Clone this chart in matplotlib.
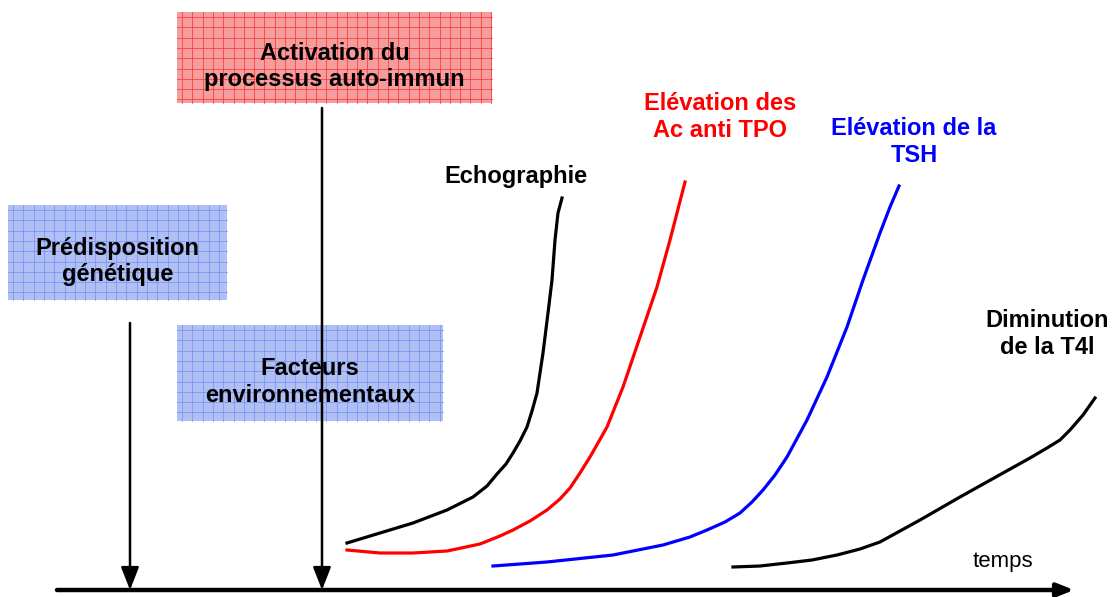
import matplotlib
matplotlib.use("Agg")
import matplotlib.pyplot as plt
from matplotlib.patches import Rectangle

# curves, in pixel coordinates of the slide (x to the right, y down)
echo_x = [347, 380, 413, 447, 473, 487, 497, 506, 513, 520, 527, 532, 537, 543, 548, 552, 555, 558, 562]
echo_y = [543, 533, 523, 510, 497, 486, 474, 464, 453, 441, 427, 411, 393, 353, 313, 280, 240, 213, 198]
tpo_x = [347, 380, 413, 447, 480, 500, 513, 530, 547, 560, 570, 580, 590, 607, 623, 640, 657, 670, 685]
tpo_y = [550, 553, 553, 551, 544, 536, 530, 521, 510, 499, 488, 473, 457, 427, 387, 337, 287, 240, 182]
tsh_x = [493, 547, 613, 663, 690, 707, 725, 740, 752, 763, 775, 787, 807, 827, 847, 863, 880, 890, 899]
tsh_y = [566, 562, 555, 545, 537, 530, 522, 513, 502, 490, 475, 457, 420, 377, 327, 280, 233, 207, 186]
t4_x = [733, 760, 787, 812, 837, 860, 880, 920, 960, 1003, 1030, 1047, 1060, 1070, 1083, 1095]
t4_y = [567, 566, 563, 560, 555, 549, 542, 520, 497, 473, 458, 448, 440, 430, 415, 398]

boxes = [
    # x0, y0, x1, y1, label, fill, grid
    (177, 12, 492, 103, "Activation du\nprocessus auto-immun", "#f59c9c", "#ff2a2a"),
    (8, 205, 227, 300, "Prédisposition\ngénétique", "#b0c0f4", "#6f8ff2"),
    (177, 325, 443, 421, "Facteurs\nenvironnementaux", "#b0c0f4", "#6f8ff2"),
]

labels = [
    (516, 176, "Echographie", "black"),
    (720, 117, "Elévation des\nAc anti TPO", "#ff0000"),
    (914, 142, "Elévation de la\nTSH", "#0000ff"),
    (1047, 334, "Diminution\nde la T4l", "black"),
]

plt.rcParams["font.family"] = ["Liberation Sans", "DejaVu Sans"]
fig = plt.figure(figsize=(11.18, 5.97), dpi=100)
ax = fig.add_axes([0, 0, 1, 1])
ax.set_xlim(0, 1118)
ax.set_ylim(597, 0)
ax.axis("off")

for x0, y0, x1, y1, txt, fill, grid in boxes:
    ax.add_patch(Rectangle((x0, y0), x1 - x0, y1 - y0, facecolor=fill,
                           edgecolor="none", zorder=1))
    gx = x0 + 5
    while gx < x1:
        ax.plot([gx, gx], [y0, y1], color=grid, lw=0.7, alpha=0.7, zorder=1.5)
        gx += 10.3
    gy = y0 + 5
    while gy < y1:
        ax.plot([x0, x1], [gy, gy], color=grid, lw=0.7, alpha=0.7, zorder=1.5)
        gy += 10.3
    ax.text((x0 + x1) / 2, (y0 + y1) / 2 + 9, txt, ha="center", va="center",
            fontsize=17, fontweight="bold", linespacing=1.2, zorder=3)

# time axis and arrows
ax.annotate("", xy=(1074, 590), xytext=(57, 590),
            arrowprops=dict(arrowstyle="-|>,head_length=1.0,head_width=0.4",
                            color="black", lw=3.2, shrinkA=0, shrinkB=0), zorder=4)
for ax_x, top in [(130, 323), (322, 108)]:
    ax.annotate("", xy=(ax_x, 590), xytext=(ax_x, top),
                arrowprops=dict(arrowstyle="-|>,head_length=1.4,head_width=0.55",
                                color="black", lw=1.8, shrinkA=0, shrinkB=0),
                zorder=4)
ax.text(1003, 562, "temps", ha="center", va="center", fontsize=16)

ax.plot(echo_x, echo_y, color="black", lw=2.3, zorder=5)
ax.plot(tpo_x, tpo_y, color="#ff0000", lw=2.3, zorder=5)
ax.plot(tsh_x, tsh_y, color="#0000ff", lw=2.3, zorder=5)
ax.plot(t4_x, t4_y, color="black", lw=2.3, zorder=5)

for x, y, txt, col in labels:
    ax.text(x, y, txt, ha="center", va="center", color=col, fontsize=17,
            fontweight="bold", linespacing=1.2)

fig.savefig("out.png", dpi=100)
